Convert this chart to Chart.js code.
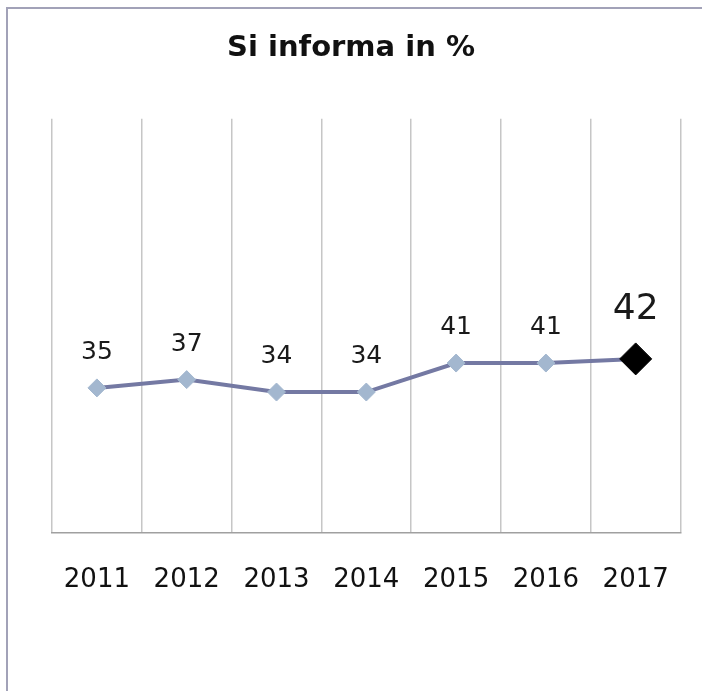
<!DOCTYPE html>
<html>
<head>
<meta charset="utf-8">
<script src="https://cdn.jsdelivr.net/npm/chart.js@4"></script>
<style>
  html, body { margin: 0; padding: 0; background: #ffffff; }
  #wrap { width: 702px; height: 691px; position: relative; }
</style>
</head>
<body>
<div id="wrap"><canvas id="c" width="702" height="691"></canvas></div>
<script>
const titleText = 'Si informa in %';
const categories = ['2011', '2012', '2013', '2014', '2015', '2016', '2017'];
const siInforma = [35, 37, 34, 34, 41, 41, 42];

const lastIdx = siInforma.length - 1;
const pointFill = siInforma.map((v, i) => i === lastIdx ? '#000000' : '#a3b7cf');
const pointRad = siInforma.map((v, i) => i === lastIdx ? 16 : 9);

const framePlugin = {
  id: 'frame',
  beforeDraw(chart) {
    const ctx = chart.ctx;
    ctx.save();
    ctx.strokeStyle = '#a2a2b8';
    ctx.lineWidth = 2;
    ctx.beginPath();
    ctx.moveTo(7, 691);
    ctx.lineTo(7, 8);
    ctx.lineTo(702, 8);
    ctx.stroke();
    ctx.restore();
  }
};

const labelPlugin = {
  id: 'valueLabels',
  afterDatasetsDraw(chart) {
    const ctx = chart.ctx;
    const meta = chart.getDatasetMeta(0);
    const data = chart.data.datasets[0].data;
    ctx.save();
    ctx.fillStyle = '#1a1a1a';
    ctx.textAlign = 'center';
    ctx.textBaseline = 'alphabetic';
    meta.data.forEach((pt, i) => {
      const big = i === lastIdx;
      ctx.font = (big ? '36px' : '25px') + ' "DejaVu Sans", sans-serif';
      ctx.fillText(String(data[i]), pt.x, pt.y - (big ? 40 : 29));
    });
    ctx.restore();
  }
};

new Chart(document.getElementById('c'), {
  type: 'line',
  data: {
    labels: categories,
    datasets: [{
      label: titleText,
      data: siInforma,
      borderColor: '#7479a3',
      borderWidth: 4,
      tension: 0,
      pointStyle: 'rectRot',
      pointRadius: pointRad,
      pointHoverRadius: pointRad,
      pointBackgroundColor: pointFill,
      pointBorderColor: pointFill,
      pointBorderWidth: 1
    }]
  },
  options: {
    responsive: false,
    animation: false,
    layout: { padding: { left: 16, right: 16, top: 0, bottom: 63 } },
    plugins: {
      legend: { display: false },
      tooltip: { enabled: false },
      title: {
        display: true,
        text: titleText,
        color: '#111111',
        font: { family: '"DejaVu Sans", sans-serif', size: 29, weight: 'bold' },
        padding: { top: 31, bottom: 53 }
      }
    },
    scales: {
      x: {
        offset: true,
        grid: {
          offset: true,
          display: true,
          drawTicks: false,
          color: '#c6c6c6',
          lineWidth: 1.5
        },
        border: { display: true, color: '#a0a0a0', width: 1.5 },
        ticks: {
          padding: 32,
          color: '#111111',
          font: { family: '"DejaVu Sans", sans-serif', size: 26 }
        }
      },
      y: {
        display: true,
        min: 0,
        max: 100,
        grid: { display: false },
        border: { display: false },
        ticks: { display: false },
        afterFit(scale) { scale.width = 36; }
      }
    }
  },
  plugins: [framePlugin, labelPlugin]
});
</script>
</body>
</html>
